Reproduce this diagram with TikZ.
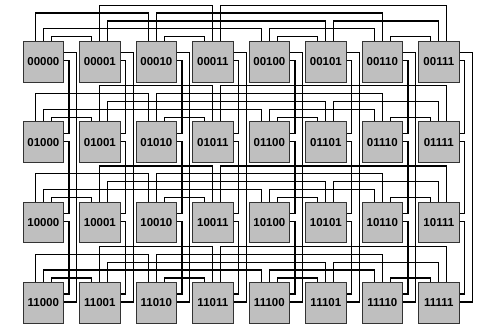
\documentclass[tikz,border=0pt]{standalone}
\usepackage{fontspec}
\setmainfont{Liberation Sans}
\usetikzlibrary{calc}

\begin{document}
\begin{tikzpicture}[x=1pt, y=-1pt, font=\fontsize{11.5}{12}\selectfont\bfseries,
  cube/.style={draw=black!80, fill=black!25, line width=0.8pt, minimum width=40.5pt,
    minimum height=40.5pt, inner sep=0pt, anchor=north west},
  wire/.style={line width=1.2pt, black}]
\useasboundingbox (0,0) rectangle (477,327);
\def\colstep{56.5}\def\rowstep{80.4}\def\stubhi{11.7}\def\stublo{19.8}\def\chanin{5}\def\chanout{12.7}
\foreach \r/\rb in {0/00,1/01,2/10,3/11}
  \foreach \c/\cb in {0/000,1/001,2/010,3/011,4/100,5/101,6/110,7/111}
    \node[cube] (b\rb\cb) at ({22.7+\colstep*\c},{41+\rowstep*\r}) {\rb\cb};
% links inside a row, over the boxes
\foreach \rb in {00,01,10,11}
  \foreach \ca/\pa/\cc/\pb/\k in {000/2/001/0/0, 010/2/011/0/0, 100/2/101/0/0, 110/2/111/0/0,
      000/0/010/0/3, 001/1/011/1/4, 100/1/110/0/1, 101/2/111/1/2,
      000/1/100/0/1, 001/2/101/1/2, 010/1/110/1/3, 011/2/111/2/4}
    \draw[wire] ($(b\rb\ca.north west)+({12.5+8*\pa},0)$) -- ++(0,{-4.3-7.9*\k})
      -| ($(b\rb\cc.north west)+({12.5+8*\pb},0)$);
% links inside a column, on the right side
\foreach \cb in {000,001,010,011,100,101,110,111} {
  \foreach \ra/\rc in {00/01,01/10,10/11}
    \draw[wire] ($(b\ra\cb.north east)+(0,\stublo)$) -- ++(\chanin,0) |- ($(b\rc\cb.north east)+(0,\stubhi)$);
  \draw[wire] ($(b00\cb.north east)+(0,\stubhi)$) -- ++(\chanout,0) |- ($(b11\cb.north east)+(0,\stublo)$);
}
\end{tikzpicture}
\end{document}
